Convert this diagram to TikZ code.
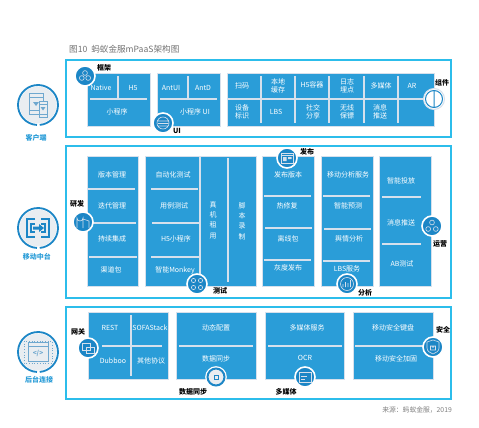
\documentclass[tikz,border=0pt]{standalone}
\usepackage{fontspec}
\setmainfont{Noto Sans CJK SC}
\usepackage{tikz}
\usetikzlibrary{positioning, calc}

\definecolor{panelcyan}{HTML}{2CBDEB}
\definecolor{boxblue}{HTML}{2A9DD8}
\definecolor{ringblue}{HTML}{1C86C6}
\definecolor{haze}{HTML}{D6E0EC}
\definecolor{disc}{HTML}{E9EDF1}
\definecolor{iconblue}{HTML}{6FA8CF}

\tikzset{
  panel/.style={draw=panelcyan, line width=2pt, fill=white},
  modbox/.style={draw=haze, line width=0.9pt, fill=boxblue},
  divline/.style={draw=haze, line width=1.2pt},
  modtext/.style={inner sep=0pt, text=white, font=\fontsize{7}{7.8}\selectfont, align=center},
  tagtext/.style={inner sep=0pt, text=black, font=\fontsize{7}{8}\selectfont\bfseries},
  sidetext/.style={inner sep=0pt, text=boxblue, font=\fontsize{7}{8}\selectfont\bfseries},
  sidering/.style={circle, inner sep=0pt, minimum size=37pt, fill=disc},
  badge/.style={circle, inner sep=0pt, minimum size=20pt, fill=ringblue, draw=white, line width=1.6pt},
  lighticon/.style={draw=haze, line width=0.6pt},
  sideicon/.style={draw=iconblue, line width=0.8pt},
}

\begin{document}
\begin{tikzpicture}[x=1pt,y=-1pt]
  \useasboundingbox (0,0) rectangle (479,428);
  \fill[white] (0,0) rectangle (479,428);
  \node[inner sep=0pt, anchor=west, text=black!55, font=\fontsize{8.6}{10}\selectfont] (title) at (69,49) {图10\hspace{4pt}蚂蚁金服mPaaS架构图};
  \node[inner sep=0pt, anchor=east, text=black!50, font=\fontsize{6.8}{8}\selectfont] (source) at (452,410) {来源：蚂蚁金服，2019};

  % Panels
  \draw[panel] (65.5,60.5) rectangle (451,137);
  \draw[panel] (65.5,146) rectangle (451,298);
  \draw[panel] (65.5,307) rectangle (451,399);

  % Client side
  \draw[modbox] (87,73) rectangle (150,126);
  \draw[divline] (90,99) -- (147,99);
  \draw[divline] (118,76) -- (118,98);
  \node[modtext] (native) at (101,88) {Native};
  \node[modtext] (hfive) at (133,88) {H5};
  \node[modtext] (miniapp) at (117,112) {小程序};
  \draw[modbox] (157,73) rectangle (220,126);
  \draw[divline] (160,99) -- (217,99);
  \draw[divline] (188,76) -- (188,98);
  \node[modtext] (antui) at (171,88) {AntUI};
  \node[modtext] (antd) at (203,88) {AntD};
  \node[modtext] (miniui) at (195,112) {小程序 UI};
  \draw[modbox] (227,73) rectangle (434,126);
  \draw[divline] (227,99) -- (434,99);
  \foreach \vx in {261,295,329,364,398}
    \draw[divline] (\vx,76) -- (\vx,123);
  \node[modtext] (scan) at (242,86) {扫码};
  \node[modtext] (cache) at (278,86) {本地\\缓存};
  \node[modtext] (container) at (312,85) {H5容器};
  \node[modtext] (logs) at (347,86) {日志\\埋点};
  \node[modtext] (media) at (381,86) {多媒体};
  \node[modtext] (ar) at (412,86) {AR};
  \node[modtext] (device) at (242,112) {设备\\标识};
  \node[modtext] (lbs) at (276,112) {LBS};
  \node[modtext] (social) at (313,112) {社交\\分享};
  \node[modtext] (guard) at (347,112) {无线\\保镖};
  \node[modtext] (push) at (380,112) {消息\\推送};

  % Mobile platform
  \draw[modbox] (87,156) rectangle (138,286);
  \draw[divline] (88,189) -- (135,189);
  \draw[divline] (88,223) -- (136,223);
  \draw[divline] (89,257) -- (137,257);
  \node[modtext] (version) at (112,175) {版本管理};
  \node[modtext] (iterate) at (112,206) {迭代管理};
  \node[modtext] (integrate) at (112,239) {持续集成};
  \node[modtext] (channel) at (111,270) {渠道包};
  \draw[modbox] (145,156) rectangle (256,286);
  \draw[divline] (151,189) -- (198,189);
  \draw[divline] (152,223) -- (199,223);
  \draw[divline] (151,257) -- (199,257);
  \draw[divline] (200,156) -- (200,286);
  \draw[divline] (228,158) -- (228,282);
  \node[modtext] (autotest) at (173,175) {自动化测试};
  \node[modtext] (casetest) at (174,206) {用例测试};
  \node[modtext] (hfivemini) at (176,239) {H5小程序};
  \node[modtext] (monkey) at (175,270) {智能Monkey};
  \node[modtext, font=\fontsize{7}{10.4}\selectfont] (rental) at (213,220) {真\\机\\租\\用};
  \node[modtext, font=\fontsize{7}{10.4}\selectfont] (script) at (242,221) {脚\\本\\录\\制};
  \draw[modbox] (262,156) rectangle (314,286);
  \draw[divline] (264,196) -- (311,196);
  \draw[divline] (265,228) -- (312,228);
  \draw[divline] (264,260) -- (311,260);
  \node[modtext] (release) at (288,175) {发布版本};
  \node[modtext] (hotfix) at (287,206) {热修复};
  \node[modtext] (offline) at (288,239) {离线包};
  \node[modtext] (gray) at (288,268) {灰度发布};
  \draw[modbox] (321,156) rectangle (373,286);
  \draw[divline] (323,196) -- (370,196);
  \draw[divline] (324,229) -- (371,229);
  \draw[divline] (323,261) -- (370,261);
  \node[modtext] (analysis) at (348,175) {移动分析服务};
  \node[modtext] (predict) at (348,206) {智能预测};
  \node[modtext] (opinion) at (349,239) {舆情分析};
  \node[modtext] (lbsservice) at (347,269) {LBS服务};
  \draw[modbox] (379,156) rectangle (431,286);
  \draw[divline] (382,197) -- (421,197);
  \draw[divline] (382,244) -- (421,244);
  \node[modtext] (deliver) at (401,180.5) {智能投放};
  \node[modtext] (message) at (401,223) {消息推送};
  \node[modtext] (abtest) at (402,264) {AB测试};

  % Backend link
  \draw[modbox] (88,312) rectangle (168,379);
  \draw[divline] (102,346) -- (162,346);
  \draw[divline] (131,315) -- (131,376);
  \node[modtext] (rest) at (110,328) {REST};
  \node[modtext] (sofa) at (150,328) {SOFAStack};
  \node[modtext] (dubbo) at (113,361) {Dubboo};
  \node[modtext] (protocol) at (151,361) {其他协议};
  \draw[modbox] (176,312) rectangle (256,379);
  \draw[divline] (179,346) -- (253,346);
  \node[modtext] (dynamic) at (216,328) {动态配置};
  \node[modtext] (datasync) at (216,359) {数据同步};
  \draw[modbox] (265,312) rectangle (344,379);
  \draw[divline] (268,346) -- (342,346);
  \node[modtext] (mediaservice) at (307,328) {多媒体服务};
  \node[modtext] (ocr) at (305,358) {OCR};
  \draw[modbox] (353,312) rectangle (433,379);
  \draw[divline] (355,346) -- (425,346);
  \node[modtext] (keyboard) at (393,328) {移动安全键盘};
  \node[modtext] (harden) at (396,359) {移动安全加固};

  % Side discs
  \node[sidering] (client) at (38,105) {};
  \node[sidering] (mobile) at (38,228) {};
  \node[sidering] (backend) at (38,352) {};
  \foreach \sc in {client,mobile,backend}
    \draw[ringblue, line width=1.8pt, shift={(\sc)}] (93:20) arc[start angle=93, end angle=445, radius=20];
  \node[sidetext] (clientlabel) at (36,138) {客户端};
  \node[sidetext] (mobilelabel) at (37,257) {移动中台};
  \node[sidetext] (backendlabel) at (39,380) {后台连接};
  % client icon
  \draw[sideicon, shift={(client)}] (-9,-12) rectangle (5,9) (-9,-8) -- (5,-8) (-9,5) -- (5,5);
  \draw[sideicon, fill=disc, shift={(client)}] (1,-4) rectangle (9,12) (1,-1) -- (9,-1) (1,9) -- (9,9);
  \fill[iconblue, shift={(client)}] (-5,-3) -- (1,-3) -- (-2,1) -- cycle (2.5,2) -- (7.5,2) -- (5,5.5) -- cycle;
  % mobile icon
  \draw[ringblue, line width=1.3pt, shift={(mobile)}] (-3,-9) -- (-11,-9) -- (-11,9) -- (-3,9) (-3,-4) -- (-7,-4) -- (-7,4) -- (-3,4);
  \draw[ringblue, line width=1.3pt, shift={(mobile)}] (3,-9) -- (11,-9) -- (11,9) -- (3,9) (3,-4) -- (7,-4) -- (7,4) -- (3,4);
  \fill[ringblue, shift={(mobile)}] (-5,-1.5) -- (1,-1.5) -- (1,-4) -- (6,0) -- (1,4) -- (1,1.5) -- (-5,1.5) -- cycle;
  % backend icon
  \draw[iconblue, line width=0.7pt, dotted, shift={(backend)}] (-14,-11) rectangle (14,11);
  \draw[sideicon, fill=disc, shift={(backend)}] (-10,-10) rectangle (10,9) (-10,-6) -- (10,-6);
  \node[inner sep=0pt, text=iconblue, font=\fontsize{6.5}{7}\selectfont\bfseries] (codemark) at (38,353) {</>};

  % Badges
  \node[badge] (frame) at (85,76) {};
  \draw[lighticon, shift={(frame)}] (0,-3) circle (2.4) (-3.2,2) circle (2.4) (3.2,2) circle (2.4);
  \node[tagtext] (framelabel) at (104,68) {框架};
  \node[badge] (uibadge) at (163,123) {};
  \draw[lighticon, shift={(uibadge)}] (0,0) circle (6) (-5,-2) -- (5,-2) (-5,0.5) -- (5,0.5) (-5,3) -- (5,3);
  \node[tagtext] (uilabel) at (177,131) {UI};
  \node[badge, fill=white, draw=haze, minimum size=21pt, line width=1pt] (widget) at (434,99) {};
  \draw[ringblue, line width=1pt, shift={(widget)}] (0,0) circle (8.5) (0,-8.5) -- (0,8.5);
  \node[tagtext] (widgetlabel) at (442,83) {组件};
  \node[badge] (devbadge) at (83,222) {};
  \draw[lighticon, shift={(devbadge)}] (-6,6) -- (-6,-4) arc[start angle=180, end angle=0, radius=3] -- (0,6) (0,-3) -- (6,-1) -- (6,6);
  \node[tagtext] (devlabel) at (77,204) {研发};
  \node[badge] (testbadge) at (197,284) {};
  \draw[lighticon, shift={(testbadge)}] (-3.5,-3.5) circle (2.1) (3.5,-3.5) circle (2.1) (-3.5,3.5) circle (2.1) (3.5,3.5) circle (2.1);
  \node[tagtext] (testlabel) at (220,291) {测试};
  \node[badge] (pubbadge) at (287,158) {};
  \draw[lighticon, shift={(pubbadge)}] (-6,-5) rectangle (6,5) (-6,-2.5) -- (6,-2.5);
  \fill[haze, shift={(pubbadge)}] (-4,-1) rectangle (-0.5,3) (1,-1) rectangle (4.5,1);
  \node[tagtext] (publabel) at (307,152) {发布};
  \node[badge] (statbadge) at (347,284) {};
  \draw[lighticon, shift={(statbadge)}] (0,0) circle (6.5) (-4,3) -- (-4,0) (-1.5,3) -- (-1.5,-2) (1,3) -- (1,-1) (3.5,3) -- (3.5,-4);
  \node[tagtext] (statlabel) at (365,293) {分析};
  \node[badge] (opsbadge) at (432,226) {};
  \draw[lighticon, shift={(opsbadge)}] (0,-3.5) circle (2.4) (-3.8,3) circle (2.4) (3.8,3) circle (2.4);
  \node[tagtext] (opslabel) at (440,244) {运营};
  \node[badge] (gatebadge) at (88,348) {};
  \draw[lighticon, shift={(gatebadge)}] (-6,-5) rectangle (2,2) (-2,-1) rectangle (6,5);
  \node[tagtext] (gatelabel) at (78,332) {网关};
  \node[badge, fill=disc, draw=white] (syncbadge) at (216,377) {};
  \draw[ringblue, line width=2pt, shift={(syncbadge)}] (0,0) circle (8.5);
  \draw[ringblue, line width=0.5pt, shift={(syncbadge)}] (-2,-2) rectangle (2,2);
  \node[tagtext] (synclabel) at (193,392) {数据同步};
  \node[badge] (mediabadge) at (305,377) {};
  \draw[lighticon, shift={(mediabadge)}] (-6,-5) rectangle (6,5) (-4,-1) -- (2,-1) (-4,2) -- (0,2);
  \node[tagtext] (medialabel) at (286,392) {多媒体};
  \node[badge] (safebadge) at (433,347) {};
  \draw[lighticon, shift={(safebadge)}] (0,-7) -- (6,-5) -- (6,1) .. controls (6,4) and (3,6) .. (0,7) .. controls (-3,6) and (-6,4) .. (-6,1) -- (-6,-5) -- cycle;
  \draw[lighticon, shift={(safebadge)}] (-2.5,-1) rectangle (2.5,3) (-1.5,-1) arc[start angle=180, end angle=0, radius=1.5];
  \node[tagtext] (safelabel) at (443,330) {安全};
\end{tikzpicture}
\end{document}
